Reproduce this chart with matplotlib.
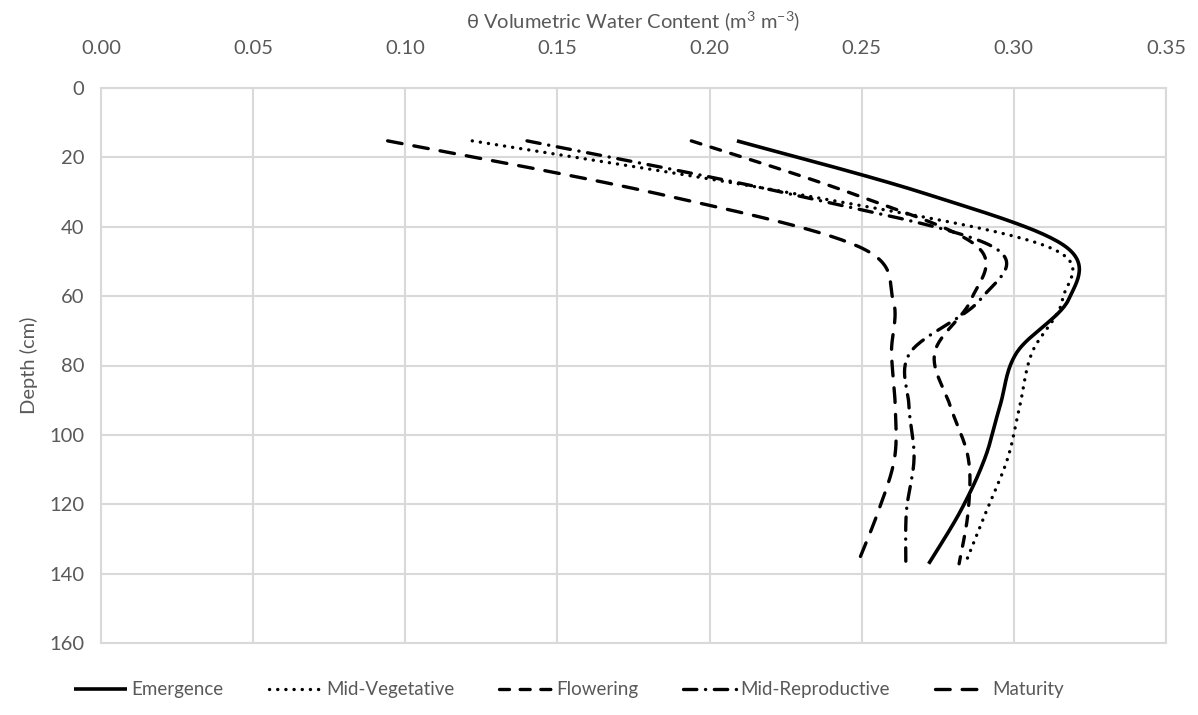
import numpy as np
import matplotlib
matplotlib.use("Agg")
import matplotlib.pyplot as plt

# ---- data ----
depths = [15.24, 30.48, 45.72, 60.96, 76.2, 91.44, 106.68, 121.92, 137.16]
emergence = [0.209, 0.271, 0.317, 0.318, 0.301, 0.2955, 0.2905, 0.2825, 0.272]
mid_vegetative = [0.122, 0.228, 0.311, 0.316, 0.306, 0.302, 0.298, 0.291, 0.284]
flowering = [0.194, 0.247, 0.288, 0.286, 0.274, 0.279, 0.285, 0.285, 0.282]
mid_reproductive = [0.140, 0.226, 0.293, 0.289, 0.266, 0.2655, 0.2672, 0.2647, 0.2645]
maturity = [0.0942, 0.183, 0.249, 0.2603, 0.2598, 0.261, 0.2608, 0.2555, 0.2486]
series_names = ["Emergence", "Mid-Vegetative", "Flowering", "Mid-Reproductive", "Maturity"]
x_ticks = [0.00, 0.05, 0.10, 0.15, 0.20, 0.25, 0.30, 0.35]
y_ticks = [0, 20, 40, 60, 80, 100, 120, 140, 160]


def smooth(xs, ys, n=30):
    """Uniform Catmull-Rom spline through points (like Excel's smoothed line)."""
    P = np.column_stack([xs, ys]).astype(float)
    P = np.vstack([P[0], P, P[-1]])
    out = []
    t = np.linspace(0, 1, n, endpoint=False)
    for i in range(1, len(P) - 2):
        p0, p1, p2, p3 = P[i - 1], P[i], P[i + 1], P[i + 2]
        t2, t3 = t * t, t * t * t
        seg = 0.5 * ((2 * p1)[None, :] + (-p0 + p2)[None, :] * t[:, None]
                     + (2 * p0 - 5 * p1 + 4 * p2 - p3)[None, :] * t2[:, None]
                     + (-p0 + 3 * p1 - 3 * p2 + p3)[None, :] * t3[:, None])
        out.append(seg)
    out.append(P[-2][None, :])
    arr = np.vstack(out)
    return arr[:, 0], arr[:, 1]


plt.rcParams['font.family'] = ['Lato', 'DejaVu Sans']
plt.rcParams['mathtext.fontset'] = 'custom'
plt.rcParams['mathtext.rm'] = 'Lato'
grey = '#595959'
gridc = '#d9d9d9'

fig = plt.figure(figsize=(11.98, 7.15), dpi=100)
ax = fig.add_axes([101 / 1198, 1 - 643 / 715, (1166 - 101) / 1198, (643 - 88) / 715])

styles = [
    dict(linestyle='-', lw=2.6),
    dict(linestyle=(0, (0.05, 2.4)), lw=2.4, dash_capstyle='round'),
    dict(linestyle=(0, (3.0, 3.2)), lw=2.4, dash_capstyle='round'),
    dict(linestyle=(0, (4.0, 2.6, 0.05, 2.6)), lw=2.4, dash_capstyle='round'),
    dict(linestyle=(0, (4.4, 3.6)), lw=2.4, dash_capstyle='round'),
]
all_series = [emergence, mid_vegetative, flowering, mid_reproductive, maturity]
handles = []
for name, vals, st in zip(series_names, all_series, styles):
    sx, sy = smooth(vals, depths)
    ln, = ax.plot(sx, sy, color='black', label=name, solid_capstyle='butt', **st)
    handles.append(ln)

ax.set_xlim(0, 0.35)
ax.set_ylim(160, 0)
ax.set_xticks(x_ticks)
ax.set_xticklabels([f"{v:.2f}" for v in x_ticks])
ax.set_yticks(y_ticks)
ax.xaxis.tick_top()
ax.xaxis.set_label_position('top')
ax.grid(True, color=gridc, lw=1.5)
ax.set_axisbelow(True)
for s in ax.spines.values():
    s.set_color(gridc)
    s.set_linewidth(1.5)
ax.tick_params(axis='both', length=0, labelsize=14.5, colors=grey)
ax.tick_params(axis='y', pad=12)
ax.tick_params(axis='x', pad=22)
ax.set_xlabel(r'θ Volumetric Water Content (m$^{3}$ m$^{-3}$)', fontsize=14.5, color=grey, labelpad=8)
ax.set_ylabel('Depth (cm)', fontsize=14.5, color=grey, labelpad=8)

leg = fig.legend(handles=handles, loc='center', bbox_to_anchor=(0.475, 1 - 690 / 715), ncol=5,
                 frameon=False, fontsize=13.5, handlelength=2.8, handletextpad=0.25,
                 columnspacing=2.4, labelcolor=grey)

fig.savefig('out.png', dpi=100)
